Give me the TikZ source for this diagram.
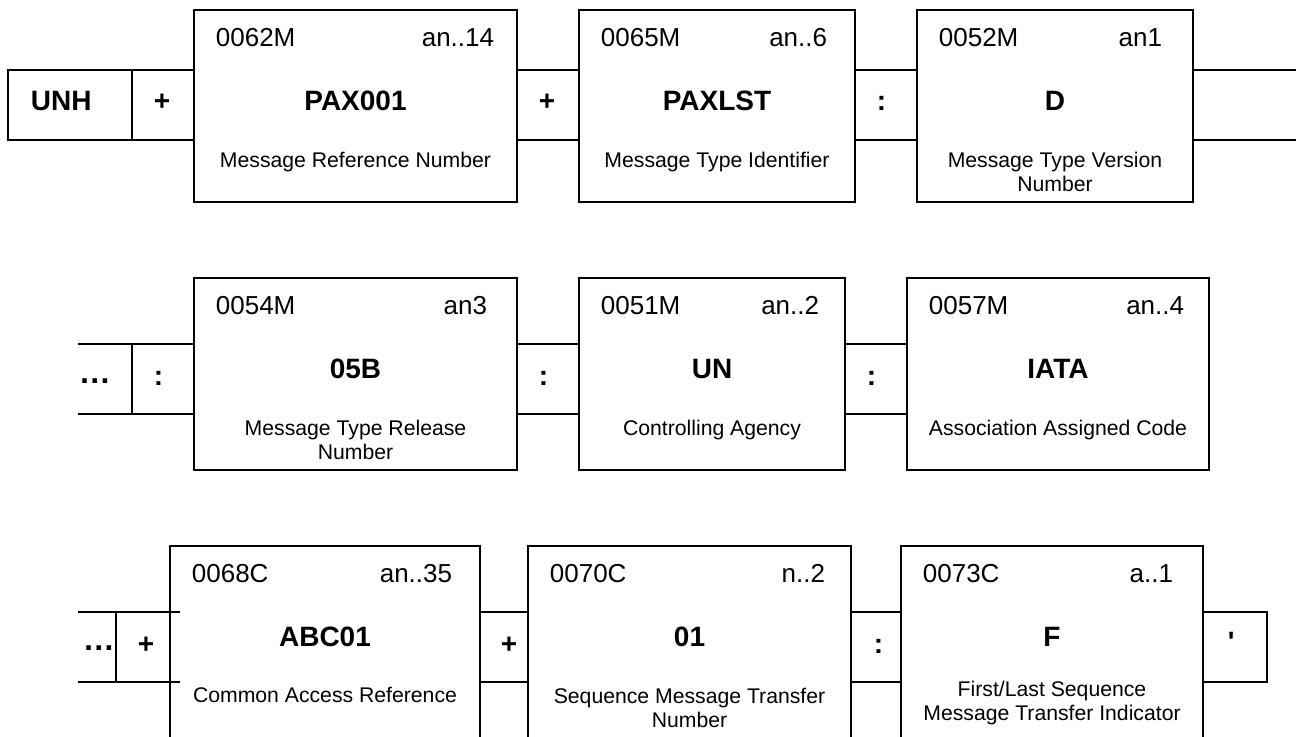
\documentclass[tikz,border=0pt]{standalone}
\usepackage{fontspec}
\setmainfont{Liberation Sans}
\usepackage{tikz}
\usetikzlibrary{fit}

\begin{document}
\begin{tikzpicture}[x=0.5pt,y=-0.5pt,line width=0.9pt,
	elem/.style={draw,inner sep=0pt,outer sep=0pt},
	cell/.style={inner sep=0pt,outer sep=0pt},
	code/.style={anchor=base west,inner sep=0pt,font=\fontsize{13}{15}\selectfont},
	fmt/.style={anchor=base east,inner sep=0pt,font=\fontsize{13}{15}\selectfont},
	val/.style={anchor=base,inner sep=0pt,font=\fontsize{14}{16}\selectfont\bfseries},
	desc/.style={anchor=north,inner sep=0pt,align=center,font=\fontsize{10.6}{12}\selectfont},
	sepsym/.style={anchor=base west,inner sep=0pt,font=\fontsize{14}{16}\selectfont\bfseries},
	dots/.style={anchor=base west,inner sep=0pt,font=\fontsize{16}{18}\selectfont\bfseries}]
		\useasboundingbox (0,0) rectangle (1296,736);

		\node[elem,fit={(8,70) (132,140)}] (unh) {};
		\node[sepsym] (unh-txt) at ([shift={(22,5)}]unh.west) {UNH};
		\node[cell,fit={(132,70) (194,140)}] (c11) {};
		\node[sepsym] (c11-txt) at ([shift={(21,5)}]c11.west) {+};
		\node[elem,fit={(194,10) (517,202)}] (pax) {};
		\node[code] (pax-code) at ([shift={(21,36)}]pax.north west) {0062M};
		\node[fmt] (pax-fmt) at ([shift={(-22,36)}]pax.north east) {an..14};
		\node[val] (pax-val) at ([shift={(0,100)}]pax.north) {PAX001};
		\node[desc] (pax-desc) at ([shift={(0,141.5)}]pax.north) {Message Reference Number};
		\node[cell,fit={(517,70) (579,140)}] (c12) {};
		\node[sepsym] (c12-txt) at ([shift={(21,5)}]c12.west) {+};
		\node[elem,fit={(579,10) (855,202)}] (paxlst) {};
		\node[code] (paxlst-code) at ([shift={(21,36)}]paxlst.north west) {0065M};
		\node[fmt] (paxlst-fmt) at ([shift={(-27,36)}]paxlst.north east) {an..6};
		\node[val] (paxlst-val) at ([shift={(0,100)}]paxlst.north) {PAXLST};
		\node[desc] (paxlst-desc) at ([shift={(0,141.5)}]paxlst.north) {Message Type Identifier};
		\node[cell,fit={(855,70) (917,140)}] (c13) {};
		\node[sepsym] (c13-txt) at ([shift={(21,5)}]c13.west) {:};
		\node[elem,fit={(917,10) (1193,202)}] (ver) {};
		\node[code] (ver-code) at ([shift={(21,36)}]ver.north west) {0052M};
		\node[fmt] (ver-fmt) at ([shift={(-30,36)}]ver.north east) {an1};
		\node[val] (ver-val) at ([shift={(0,100)}]ver.north) {D};
		\node[desc] (ver-desc) at ([shift={(0,141.5)}]ver.north) {Message Type Version\\Number};
		\node[cell,fit={(1193,70) (1296,140)}] (c14) {};
		\draw (c11.north west) -- (c11.north east) (c11.south west) -- (c11.south east);
		\draw (c12.north west) -- (c12.north east) (c12.south west) -- (c12.south east);
		\draw (c13.north west) -- (c13.north east) (c13.south west) -- (c13.south east);
		\draw (c14.north west) -- (c14.north east) (c14.south west) -- (c14.south east);

		\node[cell,fit={(78,344) (132,414)}] (c20) {};
		\node[dots] (c20-txt) at ([shift={(0,4)}]c20.west) {…};
		\node[cell,fit={(132,344) (194,414)}] (c21) {};
		\node[sepsym] (c21-txt) at ([shift={(21,6)}]c21.west) {:};
		\node[elem,fit={(194,278) (517,470)}] (rel) {};
		\node[code] (rel-code) at ([shift={(21,36)}]rel.north west) {0054M};
		\node[fmt] (rel-fmt) at ([shift={(-29,36)}]rel.north east) {an3};
		\node[val] (rel-val) at ([shift={(0,100)}]rel.north) {05B};
		\node[desc] (rel-desc) at ([shift={(0,141.5)}]rel.north) {Message Type Release\\Number};
		\node[cell,fit={(517,344) (579,414)}] (c22) {};
		\node[sepsym] (c22-txt) at ([shift={(21,6)}]c22.west) {:};
		\node[elem,fit={(579,278) (845,470)}] (agency) {};
		\node[code] (agency-code) at ([shift={(21,36)}]agency.north west) {0051M};
		\node[fmt] (agency-fmt) at ([shift={(-25,36)}]agency.north east) {an..2};
		\node[val] (agency-val) at ([shift={(0,100)}]agency.north) {UN};
		\node[desc] (agency-desc) at ([shift={(0,141.5)}]agency.north) {Controlling Agency};
		\node[cell,fit={(845,344) (907,414)}] (c23) {};
		\node[sepsym] (c23-txt) at ([shift={(21,6)}]c23.west) {:};
		\node[elem,fit={(907,278) (1209,470)}] (iata) {};
		\node[code] (iata-code) at ([shift={(21,36)}]iata.north west) {0057M};
		\node[fmt] (iata-fmt) at ([shift={(-24,36)}]iata.north east) {an..4};
		\node[val] (iata-val) at ([shift={(0,100)}]iata.north) {IATA};
		\node[desc] (iata-desc) at ([shift={(0,141.5)}]iata.north) {Association Assigned Code};
		\draw (c20.north west) -- (c21.north east) (c20.south west) -- (c21.south east);
		\draw (c21.north west) -- (c21.south west);
		\draw (c22.north west) -- (c22.north east) (c22.south west) -- (c22.south east);
		\draw (c23.north west) -- (c23.north east) (c23.south west) -- (c23.south east);

		\node[cell,fit={(78,612) (116,682)}] (c30) {};
		\node[dots] (c30-txt) at ([shift={(4,3)}]c30.west) {…};
		\node[cell,fit={(116,612) (180,682)}] (c31) {};
		\node[sepsym] (c31-txt) at ([shift={(21,6)}]c31.west) {+};
		\node[elem,fit={(170,546) (480,738)}] (ref) {};
		\node[code] (ref-code) at ([shift={(21,36)}]ref.north west) {0068C};
		\node[fmt] (ref-fmt) at ([shift={(-27,36)}]ref.north east) {an..35};
		\node[val] (ref-val) at ([shift={(0,100)}]ref.north) {ABC01};
		\node[desc] (ref-desc) at ([shift={(0,140)}]ref.north) {Common Access Reference};
		\node[cell,fit={(480,612) (528,682)}] (c32) {};
		\node[sepsym] (c32-txt) at ([shift={(20,6)}]c32.west) {+};
		\node[elem,fit={(528,546) (851,738)}] (seq) {};
		\node[code] (seq-code) at ([shift={(21,36)}]seq.north west) {0070C};
		\node[fmt] (seq-fmt) at ([shift={(-25,36)}]seq.north east) {n..2};
		\node[val] (seq-val) at ([shift={(0,100)}]seq.north) {01};
		\node[desc] (seq-desc) at ([shift={(0,141)}]seq.north) {Sequence Message Transfer\\Number};
		\node[cell,fit={(851,612) (901,682)}] (c33) {};
		\node[sepsym] (c33-txt) at ([shift={(22,6)}]c33.west) {:};
		\node[elem,fit={(901,546) (1203,738)}] (flag) {};
		\node[code] (flag-code) at ([shift={(21,36)}]flag.north west) {0073C};
		\node[fmt] (flag-fmt) at ([shift={(-29,36)}]flag.north east) {a..1};
		\node[val] (flag-val) at ([shift={(0,100)}]flag.north) {F};
		\node[desc] (flag-desc) at ([shift={(0,134.5)}]flag.north) {First/Last Sequence\\Message Transfer Indicator};
		\node[elem,fit={(1203,612) (1267,682)}] (c34) {};
		\node[sepsym] (c34-txt) at ([shift={(24,4)}]c34.west) {\textquotesingle};
		\draw (c30.north west) -- (c31.north east) (c30.south west) -- (c31.south east);
		\draw (c31.north west) -- (c31.south west);
		\draw (c32.north west) -- (c32.north east) (c32.south west) -- (c32.south east);
		\draw (c33.north west) -- (c33.north east) (c33.south west) -- (c33.south east);
\end{tikzpicture}
\end{document}
